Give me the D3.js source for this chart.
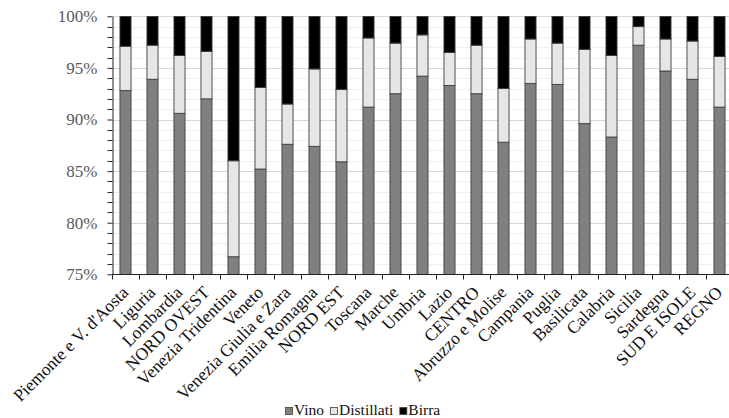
<!DOCTYPE html>
<html>
<head>
<meta charset="utf-8">
<script src="https://cdn.jsdelivr.net/npm/d3@7"></script>
<style>
  html, body { margin: 0; padding: 0; background: #fff; }
  svg { display: block; }
  svg text { font-family: "Liberation Serif", "Times New Roman", "DejaVu Serif", serif; }
</style>
</head>
<body>
<svg id="chart" width="729" height="418"></svg>
<script>
const categories = ["Piemonte e V. d'Aosta","Liguria","Lombardia","NORD OVEST","Venezia Tridentina","Veneto","Venezia Giulia e Zara","Emilia Romagna","NORD EST","Toscana","Marche","Umbria","Lazio","CENTRO","Abruzzo e Molise","Campania","Puglia","Basilicata","Calabria","Sicilia","Sardegna","SUD E ISOLE","REGNO"];
const vino =       [92.8, 93.9, 90.6, 92.0, 76.7, 85.2, 87.6, 87.4, 85.9, 91.2, 92.5, 94.2, 93.3, 92.5, 87.8, 93.5, 93.4, 89.6, 88.3, 97.2, 94.7, 93.9, 91.2];
const distillati = [ 4.3,  3.3,  5.6,  4.6,  9.3,  7.9,  3.9,  7.5,  7.0,  6.7,  4.9,  4.0,  3.2,  4.7,  5.2,  4.3,  4.0,  7.2,  7.9,  1.8,  3.1,  3.7,  4.9];
const birra = vino.map((v, i) => +(100 - v - distillati[i]).toFixed(1));
const seriesNames = ["Vino", "Distillati", "Birra"];
const seriesColors = ["#808080", "#e6e6e6", "#000000"];
const yTicks = [75, 80, 85, 90, 95, 100];

const svg = d3.select("#chart");
const x = d3.scaleBand().domain(categories).range([112, 733]).paddingInner(0.59).paddingOuter(0.295);
const y = d3.scaleLinear().domain([75, 100]).range([274.3, 16.3]);

svg.append("defs").append("clipPath").attr("id", "plot")
  .append("rect").attr("x", 112).attr("y", 16).attr("width", 700).attr("height", 258.3);

// gridlines
const minor = d3.range(76, 101, 1);
svg.append("g").selectAll("line").data(minor).join("line")
  .attr("x1", 112).attr("x2", 729)
  .attr("y1", d => Math.round(y(d)) + 0.5).attr("y2", d => Math.round(y(d)) + 0.5)
  .attr("stroke", d => d % 5 === 0 ? "#d9d9d9" : "#f0f0f0").attr("stroke-width", 1);

const rows = categories.map((c, i) => ({ cat: c, Vino: vino[i], Distillati: distillati[i], Birra: birra[i] }));
const stack = d3.stack().keys(seriesNames)(rows);

const gBars = svg.append("g").attr("clip-path", "url(#plot)");
stack.forEach((s, si) => {
  gBars.append("g").selectAll("rect").data(s).join("rect")
    .attr("x", d => x(d.data.cat))
    .attr("width", x.bandwidth())
    .attr("y", d => y(Math.min(d[1], 100)))
    .attr("height", d => y(d[0]) - y(Math.min(d[1], 100)))
    .attr("fill", seriesColors[si])
    .attr("stroke", "#404040").attr("stroke-width", 0.9);
});

// y axis
const yAxis = d3.axisLeft(y).tickValues(yTicks).tickFormat(d => d + "%").tickSize(5).tickSizeOuter(0);
const gy = svg.append("g").attr("transform", "translate(112.5,0)").call(yAxis);
gy.attr("font-family", null).attr("font-size", null);
gy.select(".domain").attr("stroke", "#222");
gy.selectAll(".tick line").attr("stroke", "#222");
gy.selectAll(".tick text").attr("x", -15).attr("fill", "#595959").style("font-size", "17px");
svg.append("g").selectAll("line").data(minor.filter(d => d % 5 !== 0)).join("line")
  .attr("x1", 107.5).attr("x2", 112.5)
  .attr("y1", d => Math.round(y(d)) + 0.5).attr("y2", d => Math.round(y(d)) + 0.5)
  .attr("stroke", "#222");

// x axis
const gx = svg.append("g").attr("transform", "translate(0,274.5)");
gx.append("line").attr("x1", 112).attr("x2", 729).attr("y1", 0).attr("y2", 0).attr("stroke", "#222");
const bounds = categories.map(c => x(c) - x.step() * x.paddingInner() / 2);
gx.selectAll("line.tk").data(bounds).join("line").attr("class", "tk")
  .attr("x1", d => Math.round(d) + 0.5).attr("x2", d => Math.round(d) + 0.5)
  .attr("y1", 0).attr("y2", 5).attr("stroke", "#222");
gx.selectAll("text").data(categories).join("text")
  .attr("transform", d => `translate(${x(d) + x.bandwidth() / 2 + 4},${19}) rotate(-45)`)
  .attr("text-anchor", "end")
  .style("font-size", "17.5px")
  .attr("fill", "#111")
  .text(d => d);

// legend
const legendItems = seriesNames.map((n, i) => ({ n, c: seriesColors[i] }));
const lg = svg.append("g").attr("transform", "translate(285,415)");
let lx = 0;
legendItems.forEach(it => {
  const g = lg.append("g").attr("transform", `translate(${lx},0)`);
  g.append("rect").attr("x", 0.5).attr("y", -7.5).attr("width", 7).attr("height", 7)
    .attr("fill", it.c).attr("stroke", "#404040").attr("stroke-width", 0.8);
  const t = g.append("text").attr("x", 9).attr("y", 0)
    .style("font-size", "15.5px").attr("fill", "#111")
    .text(it.n);
  lx += 9 + t.node().getComputedTextLength() + 6;
});
</script>
</body>
</html>
